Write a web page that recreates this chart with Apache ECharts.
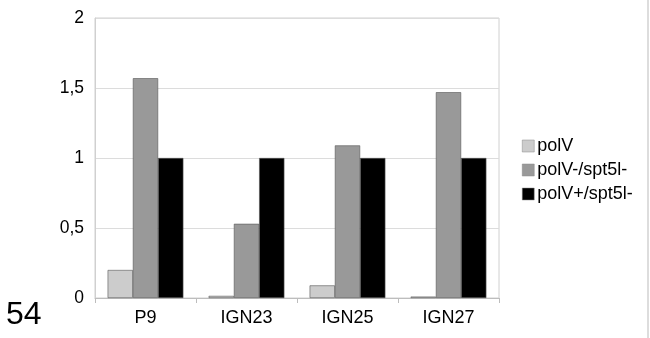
<!DOCTYPE html>
<html><head><meta charset="utf-8">
<script src="https://cdn.jsdelivr.net/npm/echarts@6/dist/echarts.min.js"></script>
<style>html,body{margin:0;padding:0;background:#fff}#c{width:650px;height:338px}</style>
</head><body><div id="c"></div>
<script>
var categories = ['P9', 'IGN23', 'IGN25', 'IGN27'];
var seriesNames = ['polV', 'polV-/spt5l-', 'polV+/spt5l-'];
var polV = [0.2, 0.015, 0.09, 0.01];
var polVminus = [1.57, 0.53, 1.09, 1.47];
var polVplus = [1, 1, 1, 1];
var colors = ['#cccccc', '#999999', '#000000'];
var yTicks = [0, 0.5, 1, 1.5, 2];

var font = 'Liberation Sans, Arial, sans-serif';
var chart = echarts.init(document.getElementById('c'));
var data = [polV, polVminus, polVplus];
chart.setOption({
  animation: false,
  textStyle: {fontFamily: font},
  grid: {left: 95, right: 151, top: 18, bottom: 40, show: true, borderColor: '#d0d0d0', borderWidth: 1},
  legend: {
    orient: 'vertical', left: 517, top: 132, itemWidth: 12, itemHeight: 12, itemGap: 6,
    icon: 'rect',
    itemStyle: {borderColor: '#888', borderWidth: 0.5},
    textStyle: {fontFamily: font, fontSize: 18, color: '#000', padding: [0, 0, 0, -2]},
    data: seriesNames
  },
  xAxis: {
    type: 'category', data: categories,
    axisLine: {lineStyle: {color: '#bdbdbd'}},
    axisTick: {show: true, length: 5, lineStyle: {color: '#bdbdbd'}},
    axisLabel: {fontSize: 18, color: '#000', margin: 11, fontFamily: font}
  },
  yAxis: {
    type: 'value', min: yTicks[0], max: yTicks[yTicks.length - 1], interval: 0.5,
    axisLine: {show: true, lineStyle: {color: '#d0d0d0'}},
    axisTick: {show: false},
    splitLine: {lineStyle: {color: '#dcdcdc'}},
    axisLabel: {fontSize: 17.5, color: '#000', margin: 11, fontFamily: font,
      formatter: function (v) { return String(v).replace('.', ','); }}
  },
  series: seriesNames.map(function (n, i) {
    return {
      name: n, type: 'bar', data: data[i], barGap: '0%', barCategoryGap: '25%',
      itemStyle: {color: colors[i], borderColor: '#555', borderWidth: 0.6}
    };
  }),
  graphic: [
    {type: 'text', left: 6, top: 299, style: {text: '54', font: '32px ' + font, fill: '#000'}},
    {type: 'line', shape: {x1: 648, y1: 0, x2: 648, y2: 338}, style: {stroke: '#bbbbbb', lineWidth: 1}}
  ]
});
</script></body></html>
